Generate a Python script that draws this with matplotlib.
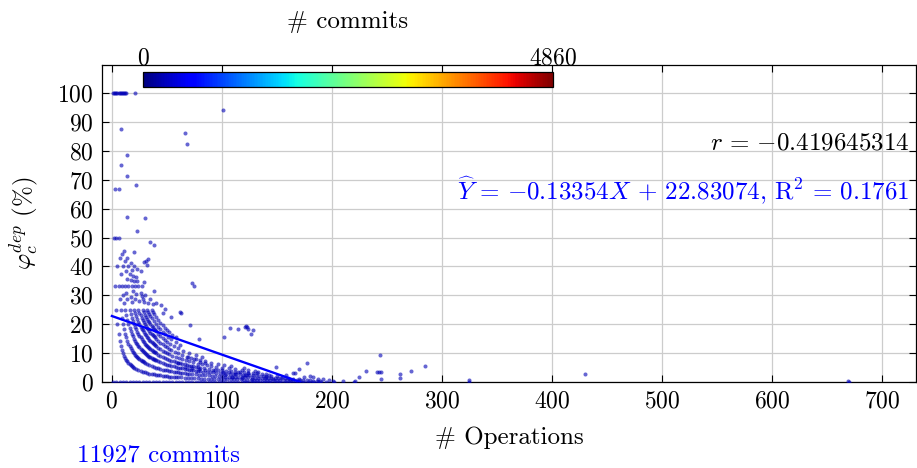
import matplotlib
matplotlib.use('Agg')
import matplotlib.pyplot as plt
import numpy as np
from matplotlib import cm
from matplotlib.colors import Normalize

plt.rcParams['font.family'] = 'serif'
plt.rcParams['font.serif'] = ['cmr10']
plt.rcParams['mathtext.fontset'] = 'cm'
plt.rcParams['axes.formatter.use_mathtext'] = True

# points, grouped by the visible bands (x = # operations, y = %)
band1 = [(4, 25), (5, 20), (6, 16.7), (7, 14.3), (8, 12.5), (9, 11.1), (10, 10), (11, 9.1), (12, 8.3),
         (13, 7.7), (14, 7.1), (15, 6.7), (16, 6.3), (17, 5.9), (18, 5.6), (19, 5.3), (20, 5.0),
         (22, 4.5), (24, 4.2), (26, 3.8), (28, 3.6), (30, 3.3), (32, 3.1), (34, 2.9), (36, 2.8),
         (38, 2.6), (40, 2.5), (42, 2.4), (44, 2.3), (46, 2.2), (48, 2.1), (50, 2.0), (52, 1.9),
         (54, 1.9), (56, 1.8), (58, 1.7), (60, 1.7), (63, 1.6), (66, 1.5), (69, 1.4), (72, 1.4),
         (75, 1.3), (78, 1.3), (81, 1.2), (84, 1.2), (87, 1.1), (90, 1.1), (93, 1.1), (96, 1.0),
         (99, 1.0), (102, 1.0), (105, 1.0), (108, 0.9), (111, 0.9), (114, 0.9), (117, 0.9),
         (120, 0.8), (123, 0.8), (126, 0.8), (129, 0.8), (132, 0.8), (135, 0.7), (138, 0.7),
         (141, 0.7), (144, 0.7), (147, 0.7), (150, 0.7), (153, 0.7), (156, 0.6), (159, 0.6),
         (162, 0.6), (165, 0.6), (168, 0.6), (171, 0.6), (174, 0.6), (177, 0.6), (180, 0.6),
         (183, 0.5), (186, 0.5), (189, 0.5)]
band2 = [(8, 25), (9, 22.2), (10, 20), (11, 18.2), (12, 16.7), (13, 15.4), (14, 14.3), (15, 13.3),
         (16, 12.5), (17, 11.8), (18, 11.1), (19, 10.5), (20, 10), (21, 9.5), (22, 9.1), (23, 8.7),
         (24, 8.3), (25, 8.0), (26, 7.7), (27, 7.4), (28, 7.1), (29, 6.9), (30, 6.7), (32, 6.3),
         (34, 5.9), (36, 5.6), (38, 5.3), (40, 5.0), (42, 4.8), (44, 4.5), (46, 4.3), (48, 4.2),
         (50, 4.0), (52, 3.8), (54, 3.7), (56, 3.6), (58, 3.4), (60, 3.3), (62, 3.2), (64, 3.1),
         (66, 3.0), (68, 2.9), (70, 2.9), (73, 2.7), (76, 2.6), (79, 2.5), (82, 2.4), (85, 2.4),
         (88, 2.3), (91, 2.2), (94, 2.1), (97, 2.1), (100, 2.0), (103, 1.9), (106, 1.9), (109, 1.8),
         (112, 1.8), (115, 1.7), (118, 1.7), (121, 1.7), (124, 1.6), (127, 1.6), (130, 1.5),
         (133, 1.5), (136, 1.5), (139, 1.4), (142, 1.4), (145, 1.4), (148, 1.4), (151, 1.3),
         (154, 1.3), (157, 1.3), (160, 1.3), (165, 1.2), (170, 1.2)]
band3 = [(12, 25), (13, 23.1), (14, 21.4), (15, 20), (16, 18.8), (17, 17.6), (18, 16.7), (19, 15.8),
         (20, 15), (21, 14.3), (22, 13.6), (23, 13), (24, 12.5), (25, 12), (26, 11.5), (27, 11.1),
         (28, 10.7), (29, 10.3), (30, 10), (31, 9.7), (32, 9.4), (33, 9.1), (34, 8.8), (35, 8.6),
         (36, 8.3), (37, 8.1), (38, 7.9), (39, 7.7), (40, 7.5), (42, 7.1), (44, 6.8), (46, 6.5),
         (48, 6.3), (50, 6.0), (52, 5.8), (54, 5.6), (56, 5.4), (58, 5.2), (60, 5.0), (62, 4.8),
         (64, 4.7), (66, 4.5), (68, 4.4), (70, 4.3), (72, 4.2), (74, 4.1), (76, 3.9), (78, 3.8),
         (80, 3.8), (83, 3.6), (86, 3.5), (89, 3.4), (92, 3.3), (95, 3.2), (98, 3.1), (101, 3.0),
         (104, 2.9), (107, 2.8), (110, 2.7), (113, 2.7), (116, 2.6), (119, 2.5), (122, 2.5),
         (125, 2.4), (128, 2.3), (131, 2.3), (134, 2.2), (137, 2.2), (140, 2.1), (145, 2.1), (150, 2.0)]
band4 = [(16, 25), (17, 23.5), (18, 22.2), (19, 21.1), (20, 20), (21, 19), (22, 18.2), (23, 17.4),
         (24, 16.7), (25, 16), (26, 15.4), (27, 14.8), (28, 14.3), (29, 13.8), (30, 13.3), (31, 12.9),
         (32, 12.5), (33, 12.1), (34, 11.8), (35, 11.4), (36, 11.1), (37, 10.8), (38, 10.5),
         (39, 10.3), (40, 10), (42, 9.5), (44, 9.1), (46, 8.7), (48, 8.3), (50, 8.0), (52, 7.7),
         (54, 7.4), (56, 7.1), (58, 6.9), (60, 6.7), (62, 6.5), (64, 6.3), (66, 6.1), (68, 5.9),
         (70, 5.7), (72, 5.6), (74, 5.4), (76, 5.3), (78, 5.1), (80, 5.0), (84, 4.8), (88, 4.5),
         (92, 4.3), (96, 4.2), (100, 4.0), (104, 3.8), (108, 3.7), (112, 3.6), (116, 3.4), (120, 3.3),
         (124, 3.2), (128, 3.1), (132, 3.0), (136, 2.9), (140, 2.9)]
band5 = [(20, 25), (21, 23.8), (22, 22.7), (23, 21.7), (24, 20.8), (25, 20), (26, 19.2), (27, 18.5),
         (28, 17.9), (29, 17.2), (30, 16.7), (31, 16.1), (32, 15.6), (33, 15.2), (34, 14.7),
         (35, 14.3), (36, 13.9), (37, 13.5), (38, 13.2), (39, 12.8), (40, 12.5), (42, 11.9),
         (44, 11.4), (46, 10.9), (48, 10.4), (50, 10), (52, 9.6), (55, 9.1), (58, 8.6), (61, 8.2),
         (64, 7.8), (67, 7.5), (70, 7.1), (74, 6.8), (78, 6.4), (82, 6.1), (86, 5.8), (90, 5.6),
         (95, 5.3), (100, 5.0), (106, 4.7), (112, 4.5), (118, 4.2), (124, 4.0), (130, 3.8)]
band6 = [(24, 25), (25, 24), (26, 23.1), (27, 22.2), (28, 21.4), (29, 20.7), (30, 20), (31, 19.4),
         (32, 18.8), (33, 18.2), (34, 17.6), (35, 17.1), (36, 16.7), (37, 16.2), (38, 15.8),
         (39, 15.4), (40, 15), (42, 14.3), (44, 13.6), (46, 13), (48, 12.5), (50, 12), (52, 11.5),
         (54, 11.1), (57, 10.5), (60, 10), (64, 9.4), (68, 8.8), (72, 8.3), (76, 7.9), (80, 7.5),
         (85, 7.1), (90, 6.7), (96, 6.3), (102, 5.9), (108, 5.6)]
band7 = [(28, 25), (29, 24.1), (30, 23.3), (31, 22.6), (32, 21.9), (33, 21.2), (34, 20.6), (35, 20),
         (36, 19.4), (37, 18.9), (38, 18.4), (39, 17.9), (40, 17.5), (42, 16.7), (44, 15.9),
         (46, 15.2), (48, 14.6), (50, 14), (53, 13.2), (56, 12.5), (60, 11.7), (65, 10.8), (70, 10),
         (76, 9.2), (82, 8.5)]
band8 = [(32, 25), (33, 24.2), (34, 23.5), (35, 22.9), (36, 22.2), (38, 21.1), (40, 20), (42, 19),
         (44, 18.2), (46, 17.4), (48, 16.7), (51, 15.7), (54, 14.8), (58, 13.8), (62, 12.9)]
band9 = [(36, 25), (37, 24.3), (38, 23.7), (40, 22.5), (42, 21.4), (44, 20.5), (46, 19.6),
         (48, 18.8), (50, 18), (52, 17.3), (55, 16.4), (58, 15.5)]
zero_ops = [1, 4, 7, 10, 13, 16, 19, 22, 25, 28, 31, 34, 37, 40, 43, 46, 49, 52, 55, 58, 61, 64,
            67, 70, 73, 76, 79, 82, 85, 88, 91, 94, 97, 100, 103, 106, 109, 112, 115, 118, 121,
            124, 127, 130, 133, 136, 139, 142, 145, 148, 151, 154, 157, 160, 163, 166, 169, 172,
            175, 178, 181, 184, 187, 190, 195, 202, 220, 325, 670]
scattered = [(1, 100), (2, 100), (3, 100), (4, 100), (5, 100), (6, 100), (7, 100), (8, 100),
             (9, 100), (10, 100), (11, 100), (12, 100), (13, 100), (21, 100), (101, 94.1), (8, 87.5),
             (66, 86), (68, 82.4), (14, 78.6), (8, 75), (14, 71.4), (22, 68.2), (3, 66.7), (6, 66.7),
             (14, 57.1), (30, 56.7), (23, 52.2), (2, 50), (4, 50), (6, 50), (35, 48.6), (38, 47.4),
             (11, 45.5), (9, 44.4), (20, 45), (7, 42.9), (14, 42.9), (33, 42.4), (12, 41.7),
             (17, 41.2), (29, 41.4), (31, 41.9), (32, 40.6), (5, 40), (10, 40), (15, 40), (20, 40),
             (23, 39.1), (8, 37.5), (16, 37.5), (19, 36.8), (22, 36.4), (3, 33.3), (6, 33.3),
             (9, 33.3), (12, 33.3), (21, 33.3), (24, 33.3), (14, 35.7), (20, 35), (29, 34.5),
             (73, 34.2), (75, 33.3), (38, 31.6), (7, 28.6), (10, 30), (13, 30.8), (19, 31.6),
             (22, 30.4), (30, 30), (11, 27.3), (18, 27.8), (21, 28.6), (25, 28), (29, 27.6),
             (33, 27.3), (13, 38.5), (18, 38.9), (26, 38.5), (27, 33.3), (15, 33.3), (18, 33.3),
             (17, 35.3), (23, 34.8), (26, 30.8), (27, 29.6), (14, 28.6), (17, 29.4), (28, 28.6),
             (35, 28.6), (37, 27), (40, 27.5), (45, 26.7), (48, 25.4), (46, 24), (63, 24),
             (54, 22.4), (71, 19.8), (107, 18.7), (62, 24.1), (79, 15), (102, 15.5), (115, 18.3),
             (121, 19.2), (123, 18.9), (124, 18.4), (128, 17.9), (126, 16.7), (122, 19.4), (120, 5),
             (149, 5.3), (170, 4.4), (177, 6.7), (165, 3), (166, 3), (183, 1.6), (187, 0.9),
             (201, 0.4), (225, 1.6), (133, 3.6), (221, 0.5), (231, 3.8), (241, 3.6), (243, 3.3),
             (245, 3.3), (244, 9.4), (245, 1.2), (262, 2.6), (262, 1.5), (272, 3.7), (285, 5.5),
             (325, 0.6), (430, 2.8), (669, 0.2), (69, 8.5), (75, 7.8), (80, 7.0), (85, 6.6),
             (60, 6.5), (66, 5.3), (73, 4.7), (79, 4.4), (85, 4.2), (94, 4.2), (101, 3.6), (103, 2.5),
             (106, 3.3), (109, 1.8), (112, 2.7), (115, 3.5), (118, 1.5), (121, 2.4), (124, 3.0),
             (127, 1.2), (140, 1.8), (143, 2.4), (146, 1.0), (155, 1.9), (158, 2.5), (162, 1.1),
             (175, 1.7), (180, 2.2), (192, 1.2), (197, 0.8), (210, 0.3)]

# regression line endpoints
reg_x = [0, 171]
reg_y = [22.83, 0.0]

max_commits = 4860
n_commits = 11927

fig = plt.figure(figsize=(9.17, 4.68), dpi=100)
ax = fig.add_axes([102 / 917, 1 - 382 / 468, 814 / 917, 317 / 468])

dot_color = cm.jet(0.05)
for band in [band1, band2, band3, band4, band5, band6, band7, band8, band9, scattered]:
    bx, by = np.array(band, dtype=float).T
    ax.scatter(bx, by, s=8.5, color=dot_color, alpha=0.6, linewidths=0, zorder=3)
ax.scatter(zero_ops, np.zeros(len(zero_ops)), s=8.5, color=dot_color, alpha=0.6,
           linewidths=0, zorder=3)

ax.plot(reg_x, reg_y, color='blue', lw=1.7, zorder=4)

ax.set_xlim(-9, 731)
ax.set_ylim(0, 109.7)
ax.set_xticks(range(0, 701, 100))
ax.set_yticks(range(0, 101, 10))
ax.grid(True, color='#cccccc', lw=0.9)
ax.set_axisbelow(True)
ax.tick_params(direction='in', length=5, width=0.8, labelsize=17,
               top=True, right=True, pad=6)
for s in ax.spines.values():
    s.set_linewidth(0.9)

ax.set_xlabel('# Operations', fontsize=18, labelpad=10)
ax.set_ylabel(r'$\varphi_c^{dep}$ (%)', fontsize=18, labelpad=12)

ax.text(0.992, 0.754, r'$r\,=\,{-}0.419645314$', transform=ax.transAxes,
        ha='right', va='center', fontsize=18)
ax.text(0.992, 0.606,
        r'$\widehat{Y}\,=\,{-}0.13354X\,+\,22.83074$, $\mathrm{R}^2\,=\,0.1761$',
        transform=ax.transAxes, ha='right', va='center', fontsize=18, color='blue')

fig.text(77 / 917, 1 - 455 / 468, f'{n_commits} commits', color='blue',
         fontsize=18, ha='left', va='center')

cax = fig.add_axes([143 / 917, 1 - 87 / 468, 410 / 917, 15 / 468])
sm = cm.ScalarMappable(norm=Normalize(0, max_commits), cmap='jet')
cb = fig.colorbar(sm, cax=cax, orientation='horizontal')
cax.xaxis.set_ticks_position('top')
cax.xaxis.set_label_position('top')
cb.set_ticks([0, max_commits])
cax.tick_params(length=0, labelsize=17, pad=2)
cb.outline.set_linewidth(0.9)
cax.set_xlabel('# commits', fontsize=18, labelpad=14)

fig.savefig('out.png', dpi=100)
